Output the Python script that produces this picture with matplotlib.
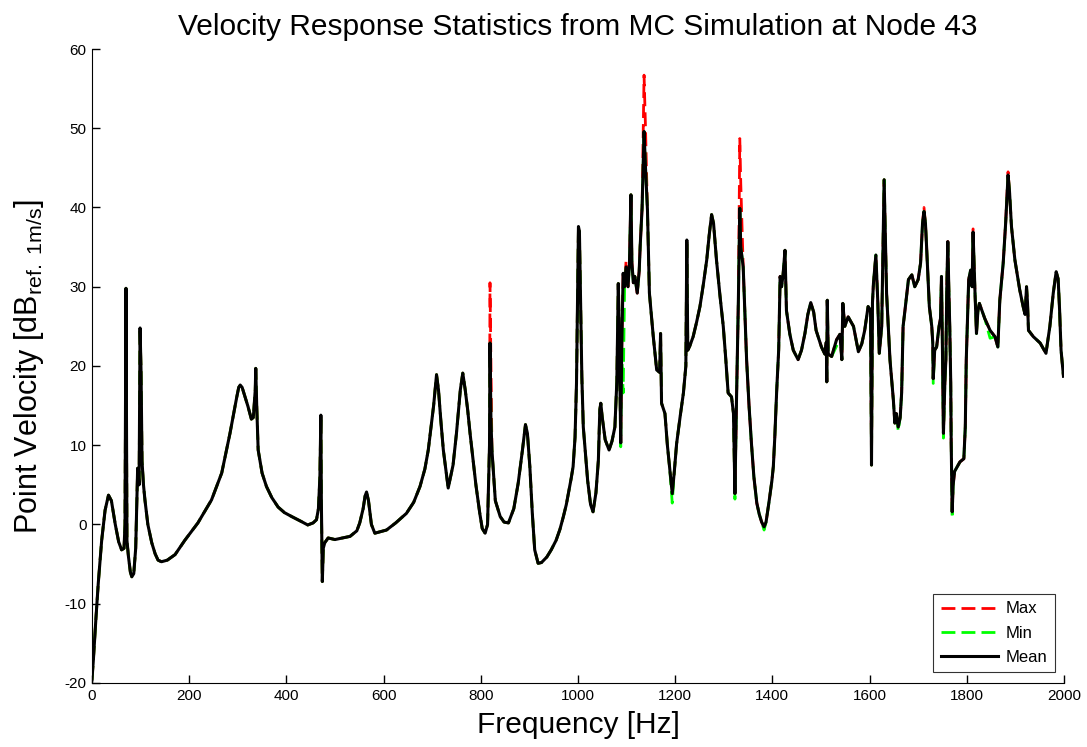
import numpy as np
import matplotlib
matplotlib.use("Agg")
import matplotlib.pyplot as plt

plt.rcParams['font.family'] = ['Liberation Sans', 'DejaVu Sans']
plt.rcParams['mathtext.fontset'] = 'custom'
plt.rcParams['mathtext.rm'] = 'Liberation Sans'
plt.rcParams['mathtext.it'] = 'Liberation Sans:italic'
plt.rcParams['axes.unicode_minus'] = False

# ---- data (frequency in Hz, mean velocity level in dB) ----
freq_hz = [
    0, 3, 8, 13, 20, 27, 34, 40, 48, 55, 61, 66, 68, 70, 72, 75, 79, 82, 86, 90,
    94, 97, 99, 101, 103, 106, 109, 115, 123, 130, 136, 143, 155, 171, 191, 218, 246, 267, 284, 290,
    298, 302, 305, 309, 314, 321, 328, 332, 336, 337, 339, 342, 350, 359, 370, 383, 396, 411, 430, 444,
    455, 462, 466, 469, 471, 472, 474, 476, 479, 486, 500, 531, 545, 551, 558, 562, 565, 569, 575, 582,
    606, 625, 647, 662, 675, 685, 692, 698, 703, 709, 713, 718, 723, 733, 743, 750, 758, 763, 768, 773,
    778, 790, 798, 803, 809, 814, 818, 819, 821, 823, 830, 840, 848, 857, 868, 877, 886, 892, 896, 901,
    906, 911, 918, 925, 936, 945, 955, 963, 970, 976, 982, 986, 990, 994, 997, 1001, 1003, 1008, 1011, 1020,
    1026, 1031, 1037, 1042, 1045, 1047, 1050, 1056, 1064, 1070, 1076, 1080, 1083, 1085, 1088, 1090, 1093, 1096, 1099, 1103,
    1106, 1109, 1111, 1114, 1117, 1122, 1126, 1128, 1132, 1136, 1139, 1143, 1147, 1155, 1162, 1168, 1170, 1172, 1179, 1184,
    1189, 1194, 1198, 1203, 1210, 1217, 1222, 1224, 1226, 1230, 1237, 1244, 1251, 1258, 1265, 1270, 1275, 1279, 1285, 1292,
    1299, 1304, 1309, 1316, 1320, 1323, 1326, 1330, 1333, 1335, 1340, 1347, 1352, 1357, 1362, 1368, 1373, 1378, 1383, 1387,
    1393, 1399, 1402, 1405, 1409, 1413, 1416, 1419, 1422, 1426, 1429, 1436, 1443, 1453, 1460, 1467, 1473, 1479, 1485, 1490,
    1501, 1508, 1511, 1512, 1513, 1515, 1522, 1532, 1539, 1543, 1545, 1549, 1556, 1567, 1577, 1584, 1590, 1597, 1602, 1604,
    1606, 1608, 1613, 1617, 1620, 1625, 1630, 1632, 1635, 1642, 1649, 1652, 1655, 1659, 1663, 1666, 1669, 1673, 1680, 1687,
    1693, 1700, 1705, 1709, 1712, 1715, 1717, 1723, 1728, 1730, 1731, 1734, 1738, 1743, 1746, 1748, 1750, 1752, 1755, 1757,
    1759, 1761, 1763, 1765, 1767, 1768, 1770, 1772, 1775, 1786, 1794, 1797, 1799, 1804, 1808, 1811, 1813, 1815, 1817, 1820,
    1823, 1826, 1837, 1848, 1858, 1864, 1868, 1875, 1880, 1885, 1888, 1892, 1899, 1909, 1916, 1920, 1923, 1925, 1927, 1937,
    1951, 1963, 1971, 1978, 1984, 1988, 1991, 1994, 1999,
]

mean_db = [
    -19.6, -17, -12, -7.4, -2, 1.8, 3.7, 3.0, 0, -2.2, -3.2, -3.0, 0, 29.8, -2, -4, -6, -6.6, -6.2, -3,
    7.1, 5, 24.8, 19.3, 8, 5, 3.1, 0, -2.3, -3.7, -4.5, -4.7, -4.5, -3.8, -2.0, 0.2, 3.1, 6.5, 11.5, 13.5,
    16.1, 17.3, 17.6, 17.3, 16.3, 14.9, 13.3, 13.5, 17, 19.7, 15, 9.4, 6.5, 4.8, 3.4, 2.2, 1.5, 1.0, 0.4, -0.06,
    0.2, 0.6, 2, 6, 13.8, 3, -7.2, -3, -2.3, -1.7, -1.9, -1.5, -0.8, 0.2, 2.0, 3.6, 4.1, 3.0, 0, -1.1,
    -0.7, 0.2, 1.4, 2.8, 4.8, 7.0, 9.4, 12.5, 15, 18.9, 17, 13, 9.4, 4.6, 7.5, 11.5, 17, 19.1, 17, 14.5,
    11.5, 5, 1.4, -0.5, -1.1, 0, 10, 22.9, 13, 9.4, 3, 1.0, 0.3, 0.2, 2.0, 5.2, 9.5, 12.6, 11.5, 7.3,
    1.5, -3.2, -4.9, -4.8, -4.1, -3.2, -2.0, -0.6, 1.0, 2.5, 4.5, 5.8, 7.3, 11, 17.8, 37.6, 37.0, 18.6, 12.3, 5.5,
    2.5, 1.6, 4, 8.1, 14.5, 15.3, 13.5, 10.7, 9.4, 10.5, 12.3, 18, 30.4, 24, 10.3, 22, 31.7, 30, 32.5, 30,
    33, 41.6, 33, 30.5, 31.3, 29.2, 32, 35.1, 40, 49.6, 45, 39.7, 29.2, 23.7, 19.5, 19.2, 24.1, 15.3, 14.0, 10,
    6.9, 3.9, 6.5, 10.2, 13.5, 16.6, 20, 35.9, 22.0, 22.5, 23.7, 25.5, 27.5, 30.3, 33.4, 36.5, 39.1, 38, 33.4, 29,
    25.0, 21, 16.6, 16.1, 14, 3.9, 15, 28, 39.9, 35, 32.5, 20.8, 15, 10.2, 6, 2.7, 1.3, 0.3, -0.3, 0.3,
    2.8, 5.5, 7.3, 11, 17, 22, 31.3, 30, 31.5, 34.6, 27.0, 24, 22.0, 20.8, 22, 24.1, 26.5, 28.0, 26.8, 24.5,
    22.4, 21.5, 23, 18.0, 28.3, 21.5, 21.2, 23.3, 24, 20.8, 27.9, 25.0, 26.2, 25.0, 21.8, 22.8, 24.5, 27.5, 27, 7.5,
    28, 30.4, 34.0, 28, 21.6, 25, 43.5, 38, 29.2, 20.8, 15.7, 12.8, 14, 12.3, 13.5, 16.6, 25.0, 27.1, 30.9, 31.5,
    30.0, 30.9, 33, 38, 39.5, 38, 35.5, 27.5, 25.0, 23, 18.4, 22, 22.4, 25.0, 26, 31.3, 22, 11.5, 18, 20.8,
    30, 35.7, 30, 25.0, 18, 10.2, 1.6, 5, 6.7, 7.9, 8.3, 12.3, 20.8, 30.9, 32.1, 30, 36.9, 33, 29.2, 24.1,
    27, 27.9, 26.0, 24.5, 23.7, 22.4, 28.3, 33.0, 38, 44.1, 42, 37.6, 33.4, 29.6, 27.5, 26.5, 30.0, 28, 24.5, 23.7,
    22.9, 21.6, 25.0, 29.2, 31.9, 31, 27.1, 22.0, 18.7,
]

# frequencies where the Max / Min statistics depart visibly from the mean
max_freq = [819, 821, 1099, 1136, 1139, 1333, 1335, 1712, 1813, 1885]
max_db = [30.5, 20.0, 33.3, 56.7, 50.0, 48.7, 43.0, 40.0, 37.3, 44.5]
min_freq = [1088, 1093, 1194, 1323, 1383, 1659, 1731, 1752, 1770, 1532, 1848]
min_db = [9.8, 16.6, 2.7, 3.2, -0.7, 11.8, 17.8, 10.9, 0.8, 22.5, 23.5]

x_ticks = list(range(0, 2001, 200))
y_ticks = list(range(-20, 61, 10))

# ---- build statistic series ----
f = np.array(freq_hz, dtype=float)
mean = np.array(mean_db, dtype=float)
mx = mean.copy()
for fq, v in zip(max_freq, max_db):
    mx[np.argmin(np.abs(f - fq))] = v
mn = mean.copy()
for fq, v in zip(min_freq, min_db):
    mn[np.argmin(np.abs(f - fq))] = v

fig = plt.figure(figsize=(10.87, 7.47), dpi=100)
ax = fig.add_axes([0.0846, 0.0857, 0.8942, 0.8487])

dash = (0, (5, 2.2))
ax.plot(f, mx, color='red', lw=2, ls=dash, label='Max')
ax.plot(f, mn, color='#00ff00', lw=2, ls=dash, label='Min')
ax.plot(f, mean, color='black', lw=2.2, label='Mean')

ax.set_xlim(0, 2000)
ax.set_ylim(-20, 60)
ax.set_xticks(x_ticks)
ax.set_yticks(y_ticks)
ax.tick_params(direction='in', length=6, width=1, labelsize=11, pad=4)
for s in ['top', 'right']:
    ax.spines[s].set_visible(False)

ax.set_title('Velocity Response Statistics from MC Simulation at Node 43', fontsize=21.5, pad=10)
ax.set_xlabel('Frequency [Hz]', fontsize=21.5, labelpad=6)
ax.set_ylabel(r'Point Velocity [dB$_{\mathrm{ref.\ 1m/s}}$]', fontsize=22, labelpad=13)

leg = ax.legend(loc='lower right', bbox_to_anchor=(0.991, 0.017), fontsize=12,
                frameon=True, fancybox=False, edgecolor='black', handlelength=3.4,
                borderaxespad=0, labelspacing=0.55, handletextpad=0.5, borderpad=0.45)
leg.get_frame().set_linewidth(0.8)

fig.savefig('out.png', dpi=100, facecolor='white')
